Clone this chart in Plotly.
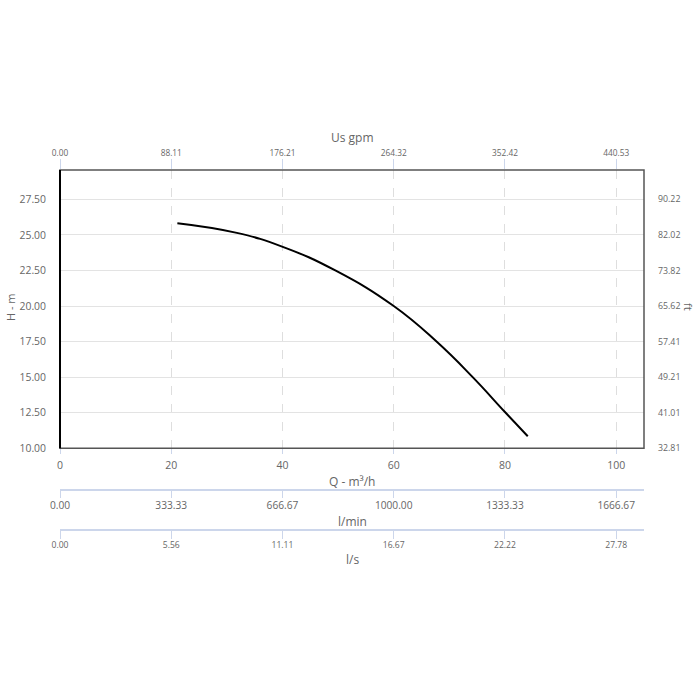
import plotly.graph_objects as go

# Data
q_m3h = [21.1, 31.8, 40.05, 49.5, 60.0, 67.7, 74.2, 80.0, 84.1]
h_m = [25.82, 25.14, 24.16, 22.5, 20.0, 17.5, 15.0, 12.55, 10.85]

x_ticks = [0, 20, 40, 60, 80, 100]
x_ticktext = ["0", "20", "40", "60", "80", "100"]
gpm_ticktext = ["0.00", "88.11", "176.21", "264.32", "352.42", "440.53"]
lmin_ticktext = ["0.00", "333.33", "666.67", "1000.00", "1333.33", "1666.67"]
ls_ticktext = ["0.00", "5.56", "11.11", "16.67", "22.22", "27.78"]

y_ticks = [10, 12.5, 15, 17.5, 20, 22.5, 25, 27.5]
y_ticktext = ["10.00", "12.50", "15.00", "17.50", "20.00", "22.50", "25.00", "27.50"]
ft_ticktext = ["32.81", "41.01", "49.21", "57.41", "65.62", "73.82", "82.02", "90.22"]

X_RANGE = [0, 105]
Y_RANGE = [10, 29.56]

FONT = "Open Sans"
LABEL = "#666666"
AXLINE = "#ccd6eb"

fig = go.Figure()
fig.add_trace(go.Scatter(x=q_m3h, y=h_m, mode="lines",
                         line=dict(color="#000000", width=2, shape="spline", smoothing=1.3),
                         hoverinfo="skip", showlegend=False))
# invisible helpers to make secondary axes render
for xa, ya in [("x2", "y"), ("x3", "y"), ("x4", "y"), ("x", "y2")]:
    fig.add_trace(go.Scatter(x=[None], y=[None], xaxis=xa, yaxis=ya, showlegend=False, hoverinfo="skip"))

# paper: y from 170 (top) to 580 (bottom) -> height 410
H_PAPER = 410.0
def pos(ypix):
    return (580 - ypix) / H_PAPER

main_bottom = pos(448.3)

fig.update_layout(
    width=700, height=700,
    margin=dict(l=60, r=56, t=170, b=120, pad=0, autoexpand=False),
    paper_bgcolor="white", plot_bgcolor="white",
    showlegend=False,
    xaxis=dict(range=X_RANGE, domain=[0, 1], anchor="y", tickmode="array", tickvals=x_ticks, ticktext=x_ticktext,
               showgrid=True, gridcolor="#dedede", griddash="dash", gridwidth=1, automargin=False,
               zeroline=False, showline=False, ticks="outside", ticklen=5, tickcolor=AXLINE,
               tickfont=dict(family=FONT, size=10.5, color=LABEL), ticklabelstandoff=2),
    xaxis2=dict(range=X_RANGE, overlaying="x", side="top", anchor="y", tickmode="array", tickvals=x_ticks,
                ticktext=gpm_ticktext, showgrid=False, zeroline=False, showline=False, automargin=False,
                ticks="outside", ticklen=10, tickcolor=AXLINE, tickfont=dict(family=FONT, size=8.3, color=LABEL),
                ticklabelstandoff=0),
    xaxis3=dict(range=X_RANGE, overlaying="x", anchor="free", position=pos(489.5), side="bottom",
                tickmode="array", tickvals=x_ticks, ticktext=lmin_ticktext, showgrid=False, zeroline=False,
                automargin=False,
                showline=True, linecolor=AXLINE, linewidth=1.5, ticks="outside", ticklen=8, tickcolor=AXLINE,
                tickfont=dict(family=FONT, size=10.2, color=LABEL), ticklabelstandoff=-1),
    xaxis4=dict(range=X_RANGE, overlaying="x", anchor="free", position=pos(530), side="bottom",
                tickmode="array", tickvals=x_ticks, ticktext=ls_ticktext, showgrid=False, zeroline=False,
                automargin=False,
                showline=True, linecolor=AXLINE, linewidth=1.5, ticks="outside", ticklen=8, tickcolor=AXLINE,
                tickfont=dict(family=FONT, size=8.6, color=LABEL), ticklabelstandoff=-1),
    yaxis=dict(range=Y_RANGE, domain=[main_bottom, 1], anchor="x", tickmode="array", tickvals=y_ticks,
               ticktext=y_ticktext, showgrid=True, gridcolor="#e3e3e3", gridwidth=1, zeroline=False,
               automargin=False,
               showline=False, ticks="", tickfont=dict(family=FONT, size=10.4, color=LABEL), ticklabelstandoff=13),
    yaxis2=dict(range=Y_RANGE, overlaying="y", side="right", anchor="x", tickmode="array", tickvals=y_ticks,
                ticktext=ft_ticktext, showgrid=False, zeroline=False, showline=False, ticks="", automargin=False,
                tickfont=dict(family=FONT, size=8.8, color=LABEL), ticklabelstandoff=13),
)

# plot border
fig.add_shape(type="rect", xref="x domain", yref="y domain", x0=0, x1=1, y0=0, y1=1,
              line=dict(color="#555555", width=1.5), layer="above")
fig.add_shape(type="line", xref="x domain", yref="y domain", x0=0, x1=0, y0=0, y1=1,
              line=dict(color="#000000", width=2), layer="above")

def ann(text, xpix, ypix, angle=0, size=12):
    fig.add_annotation(text=text, xref="paper", yref="paper",
                       x=(xpix - 60) / 584.0, y=(580 - ypix) / H_PAPER,
                       showarrow=False, textangle=angle, xanchor="center", yanchor="middle",
                       font=dict(family=FONT, size=size, color=LABEL))

ann("Us gpm", 352, 138)
ann("Q - m³/h", 352, 481)
ann("l/min", 352, 521)
ann("l/s", 352, 559)
ann("H - m", 10, 307, angle=-90, size=11)
ann("ft", 689, 307, angle=90, size=11)

fig.write_html("out.html", config={"displayModeBar": False},
               post_script="document.body.style.margin='0';document.body.style.padding='0';")
